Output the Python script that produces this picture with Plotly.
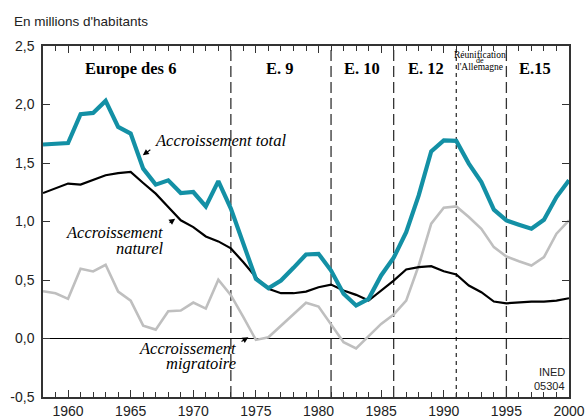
import plotly.graph_objects as go

years = list(range(1958, 2001))
total = [1.658, 1.666, 1.671, 1.917, 1.928, 2.031, 1.808, 1.752, 1.452, 1.315,
         1.352, 1.243, 1.252, 1.129, 1.345, 1.110, 0.810, 0.510, 0.430, 0.496,
         0.604, 0.718, 0.724, 0.581, 0.382, 0.282, 0.339, 0.539, 0.690, 0.909,
         1.223, 1.600, 1.694, 1.689, 1.495, 1.337, 1.101, 1.009, 0.973, 0.938,
         1.015, 1.209, 1.352]
naturel = [1.243, 1.281, 1.324, 1.315, 1.352, 1.395, 1.414, 1.423, 1.329, 1.238,
           1.124, 1.010, 0.952, 0.872, 0.830, 0.770, 0.652, 0.524, 0.425, 0.387,
           0.387, 0.401, 0.438, 0.461, 0.410, 0.373, 0.324, 0.410, 0.495, 0.590,
           0.610, 0.618, 0.575, 0.547, 0.453, 0.396, 0.316, 0.301, 0.310, 0.316,
           0.316, 0.324, 0.344]
migratoire = [0.404, 0.387, 0.339, 0.596, 0.573, 0.630, 0.401, 0.324, 0.110, 0.076,
              0.233, 0.239, 0.307, 0.256, 0.502, 0.370, 0.182, -0.012, 0.010, 0.110,
              0.211, 0.305, 0.273, 0.125, -0.032, -0.084, 0.025, 0.125, 0.205, 0.324,
              0.624, 0.981, 1.118, 1.129, 1.038, 0.938, 0.781, 0.701, 0.661, 0.624,
              0.695, 0.896, 1.009]

enlargement_years = [1973, 1981, 1986, 1995]
reunification_year = [1991]
period_labels = ["Europe des 6", "E. 9", "E. 10", "E. 12", "E.15"]
period_centers = [1965.0, 1976.9, 1983.5, 1988.6, 1997.3]

y_ticks = [-0.5, 0.0, 0.5, 1.0, 1.5, 2.0, 2.5]
y_ticktext = ["-0,5", "0,0", "0,5", "1,0", "1,5", "2,0", "2,5"]
x_ticks = [1960, 1965, 1970, 1975, 1980, 1985, 1990, 1995, 2000]

TEAL = "#1390a5"
GREY = "#bfbfbf"
SERIF = "Liberation Serif"
SANS = "Liberation Sans"

fig = go.Figure()
fig.add_trace(go.Scatter(x=years, y=migratoire, mode="lines",
                         line=dict(color=GREY, width=2.6), hoverinfo="skip"))
fig.add_trace(go.Scatter(x=years, y=naturel, mode="lines",
                         line=dict(color="black", width=2.2), hoverinfo="skip"))
fig.add_trace(go.Scatter(x=years, y=total, mode="lines",
                         line=dict(color=TEAL, width=4.2), hoverinfo="skip"))

shapes = []
for yr in enlargement_years:
    shapes.append(dict(type="line", xref="x", yref="paper", x0=yr, x1=yr, y0=0, y1=1,
                       line=dict(color="#333333", width=1.3, dash="11px,5px"), layer="below"))
for yr in reunification_year:
    shapes.append(dict(type="line", xref="x", yref="paper", x0=yr, x1=yr, y0=0, y1=1,
                       line=dict(color="#333333", width=1.3, dash="4px,4px"), layer="below"))

ann = []
for lab, cx in zip(period_labels, period_centers):
    ann.append(dict(x=cx, y=2.311, xref="x", yref="y", text="<b>" + lab + "</b>",
                    showarrow=False, font=dict(family=SERIF, size=16.5, color="black")))
for txt, yy, sz in [("Réunification", 2.420, 9.5), ("de", 2.372, 8), ("l'Allemagne", 2.322, 9.5)]:
    ann.append(dict(x=1992.9, y=yy, xref="x", yref="y", text=txt, showarrow=False,
                    font=dict(family=SERIF, size=sz, color="black")))

# series labels
ann.append(dict(x=1966.77, y=1.694, xref="x", yref="y", text="<i>Accroissement total</i>",
                showarrow=False, xanchor="left", font=dict(family=SERIF, size=16.5, color="black")))
for txt, yy in [("Accroissement", 0.909), ("naturel", 0.770)]:
    ann.append(dict(x=1967.75, y=yy, xref="x", yref="y", text="<i>" + txt + "</i>",
                    showarrow=False, xanchor="right", font=dict(family=SERIF, size=16.5, color="black")))
for txt, yy in [("Accroissement", -0.089), ("migratoire", -0.217)]:
    ann.append(dict(x=1973.57, y=yy, xref="x", yref="y", text="<i>" + txt + "</i>",
                    showarrow=False, xanchor="right", font=dict(family=SERIF, size=16.5, color="black")))

# arrows: (head_x, head_y, tail_x, tail_y)
arrows = [(1965.97, 1.566, 1966.69, 1.623),
          (1968.55, 1.024, 1967.99, 0.980),
          (1974.40, 0.010, 1973.73, -0.033)]
for hx, hy, tx, ty in arrows:
    ann.append(dict(x=hx, y=hy, ax=tx, ay=ty, xref="x", yref="y", axref="x", ayref="y",
                    text="", showarrow=True, arrowhead=2, arrowsize=1.1, arrowwidth=1.1,
                    arrowcolor="black", standoff=0, startstandoff=0))

ann.append(dict(x=1999.8, y=-0.289, xref="x", yref="y", text="INED", showarrow=False,
                xanchor="right", font=dict(family=SANS, size=11, color="#222")))
ann.append(dict(x=1999.8, y=-0.403, xref="x", yref="y", text="05304", showarrow=False,
                xanchor="right", font=dict(family=SANS, size=11, color="#222")))

ann.append(dict(x=-0.058, y=1.0, xref="paper", yref="paper", yshift=15, text="En millions d'habitants",
                showarrow=False, xanchor="left", yanchor="bottom",
                font=dict(family=SANS, size=13.5, color="#222")))

fig.update_layout(
    width=586, height=419,
    margin=dict(l=43, r=17, t=46, b=22, autoexpand=False),
    plot_bgcolor="white", paper_bgcolor="white",
    showlegend=False,
    shapes=shapes, annotations=ann,
    xaxis=dict(range=[1958, 2000], tickvals=x_ticks, ticks="inside", ticklen=7,
               tickcolor="#333", tickwidth=1.2, showline=True, linecolor="#333", linewidth=1.5,
               mirror="ticks", showgrid=False, zeroline=False,
               minor=dict(dtick=1, tick0=1958, ticks="inside", ticklen=5, tickcolor="#333", tickwidth=1.2),
               tickfont=dict(family=SANS, size=14, color="#222"), automargin=False,
               ticklabelstandoff=0),
    yaxis=dict(range=[-0.5, 2.5], tickvals=y_ticks, ticktext=y_ticktext, ticks="inside",
               ticklen=7, tickcolor="#333", tickwidth=1.2, showline=True, linecolor="#333",
               linewidth=1.5, mirror="ticks", showgrid=False, zeroline=True,
               zerolinecolor="black", zerolinewidth=1.2,
               tickfont=dict(family=SANS, size=14, color="#222"), automargin=False,
               ticklabelstandoff=4),
)

fig.write_html("out.html", config={"displayModeBar": False},
               post_script="document.body.style.margin='0';document.body.style.padding='0';")
